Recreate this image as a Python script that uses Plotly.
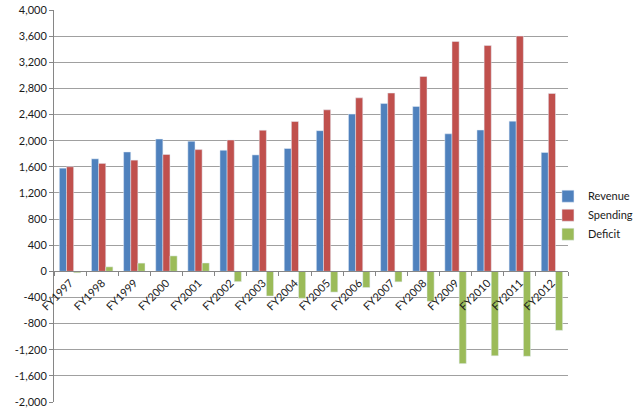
import plotly.graph_objects as go

years = ['FY1997', 'FY1998', 'FY1999', 'FY2000', 'FY2001', 'FY2002', 'FY2003', 'FY2004',
         'FY2005', 'FY2006', 'FY2007', 'FY2008', 'FY2009', 'FY2010', 'FY2011', 'FY2012']
revenue = [1579, 1722, 1827, 2025, 1991, 1853, 1782, 1880, 2153, 2407, 2568, 2524, 2105, 2163, 2299, 1819]
spending = [1601, 1652, 1702, 1789, 1863, 2011, 2160, 2293, 2472, 2655, 2729, 2983, 3518, 3456, 3601, 2723]
deficit = [-22, 69, 126, 236, 128, -158, -378, -413, -318, -248, -161, -459, -1413, -1293, -1300, -904]

ytick_vals = list(range(-2000, 4001, 400))
ytick_text = [f'{v:,}' for v in ytick_vals]

fig = go.Figure()
fig.add_trace(go.Bar(x=years, y=revenue, name='Revenue', marker_color='#4F81BD'))
fig.add_trace(go.Bar(x=years, y=spending, name='Spending', marker_color='#C0504D'))
fig.add_trace(go.Bar(x=years, y=deficit, name='Deficit', marker_color='#9BBB59'))

# x axis sits on the zero line (1/3 of the way up the -2000..4000 range)
fig.update_xaxes(anchor='free', position=1/3, showline=True, linecolor='#868686', linewidth=1,
                 ticks='outside', tickson='boundaries', ticklen=4, tickcolor='#868686',
                 tickangle=-45, showgrid=False, tickfont=dict(size=11, color='#1a1a1a'))
fig.update_yaxes(range=[-2000, 4000], tickvals=ytick_vals, ticktext=ytick_text,
                 showline=True, linecolor='#868686', linewidth=1, ticks='outside', ticklen=4,
                 tickcolor='#868686', showgrid=True, gridcolor='#A0A0A0', gridwidth=1,
                 zeroline=False, tickfont=dict(size=11, color='#1a1a1a'))

fig.update_layout(
    barmode='group',
    bargap=0.333,
    bargroupgap=0,
    margin=dict(l=54, r=72, t=10, b=17, autoexpand=False),
    plot_bgcolor='white',
    paper_bgcolor='white',
    width=640,
    height=419,
    font=dict(family='Lato', size=11, color='#1a1a1a'),
    legend=dict(x=0.961, y=0.562, xanchor='left', yanchor='top', font=dict(size=11),
                itemwidth=30, tracegroupgap=0, bgcolor='rgba(0,0,0,0)'),
    showlegend=True,
)

# drop the default 8px body margin so the figure fills the window
fig.write_html('out.html', config={'displayModeBar': False},
               post_script="document.body.style.margin='0';")
